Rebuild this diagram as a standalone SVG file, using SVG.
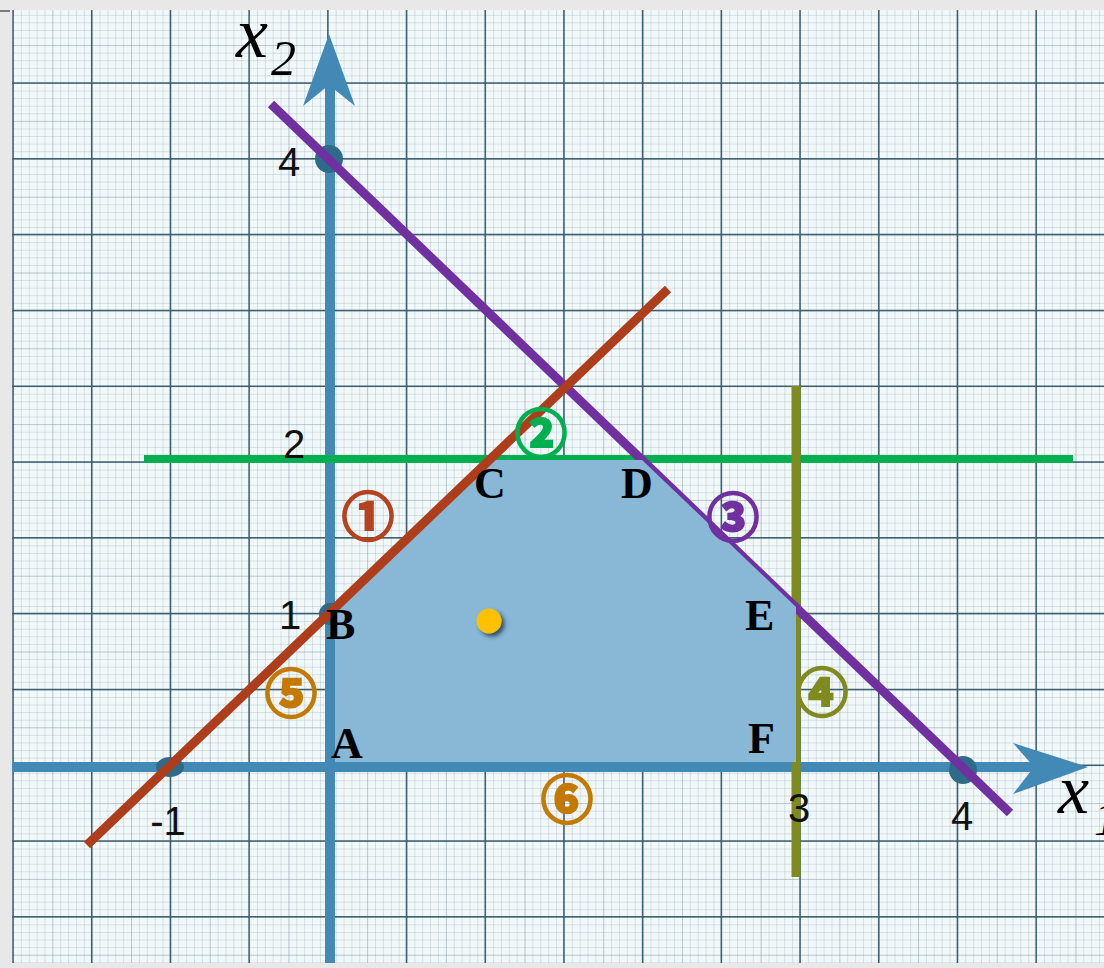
<svg xmlns="http://www.w3.org/2000/svg" width="1104" height="968" viewBox="0 0 1104 968">
<style>
.num{font-family:"Liberation Sans",Arial,sans-serif;font-size:40px;fill:#111;text-anchor:middle}
.pt{font-family:"Liberation Serif","Times New Roman",serif;font-weight:bold;font-size:44px;fill:#000}
.ax{font-family:"Liberation Serif","Times New Roman",serif;font-style:italic;fill:#000}
.circ{font-family:"Noto Sans CJK JP","DejaVu Sans",sans-serif;font-weight:bold;font-size:52px;text-anchor:middle;dominant-baseline:central;stroke-width:2.6}
.major{stroke:#23495a;stroke-width:1.5;fill:none;opacity:0.85}
</style>
<defs>
<pattern id="minor" patternUnits="userSpaceOnUse" x="13" y="7.2" width="7.87" height="7.58">
<path d="M0 0V7.58M0 0H7.87" stroke="#8fa3ae" stroke-width="0.7" fill="none" opacity="0.8"/>
</pattern>
<pattern id="mid" patternUnits="userSpaceOnUse" x="13" y="7.2" width="39.35" height="37.9">
<path d="M0 0V37.9M0 0H39.35" stroke="#6f8a98" stroke-width="0.8" fill="none" opacity="0.7"/>
</pattern>
<filter id="sh" x="-50%" y="-50%" width="200%" height="200%">
<feDropShadow dx="3" dy="3" stdDeviation="2" flood-color="#1c3344" flood-opacity="0.8"/>
</filter>
</defs>

<g id="paper">
<rect x="0" y="0" width="1104" height="968" fill="#e8e8e8"/>
<rect x="12" y="10" width="1092" height="953" fill="#f1f8fa"/>
<rect x="12" y="10" width="1092" height="953" fill="url(#minor)"/>
<rect x="12" y="10" width="1092" height="953" fill="url(#mid)"/>
<path class="major" d="M13 10V963M91.7 10V963M170.4 10V963M249.1 10V963M327.8 10V963M406.5 10V963M485.2 10V963M563.9 10V963M642.6 10V963M721.3 10V963M800 10V963M878.7 10V963M957.4 10V963M1036.1 10V963M12 83H1104M12 158.8H1104M12 234.6H1104M12 310.4H1104M12 386.2H1104M12 462H1104M12 537.8H1104M12 613.6H1104M12 689.4H1104M12 765.2H1104M12 841H1104M12 916.8H1104"/>
<path d="M0 11H10" stroke="#555" stroke-width="1.5"/>
</g>

<g id="axes">
<line x1="330" y1="963" x2="330" y2="80" stroke="#4289b5" stroke-width="10"/>
<polygon points="329,34 355,106 329,85 303,106" fill="#4289b5"/>
<line x1="12" y1="767" x2="1040" y2="767" stroke="#4289b5" stroke-width="10"/>
<polygon points="1088,767 1013,743 1034,767 1013,794" fill="#4289b5"/>
<text class="ax" x="236" y="57" font-size="72">x</text>
<text class="ax" x="271" y="75" font-size="50" font-style="normal">2</text>
<text class="ax" x="1058" y="813" font-size="70">x</text>
<text class="ax" x="1094" y="835" font-size="48" font-style="normal">1</text>
</g>

<g id="ticks">
<circle cx="329" cy="159" r="14" fill="#2e6a89"/>
<ellipse cx="170" cy="767" rx="14" ry="10" fill="#2e6a89"/>
<circle cx="963" cy="770" r="14" fill="#2e6a89"/>
<circle cx="330" cy="614" r="11" fill="#2e6a89"/>
</g>

<g id="constraint-lines">
<line id="line2" x1="144" y1="459" x2="1073" y2="459" stroke="#00b050" stroke-width="8"/>
<line id="line4" x1="796" y1="386" x2="796" y2="877" stroke="#7f8b1e" stroke-width="9"/>
<line id="line3" x1="271" y1="104" x2="1010" y2="813" stroke="#7030a0" stroke-width="9"/>
</g>

<g id="feasible-region">
<polygon points="335,762 335,608 490,460 642,460 796,607 796,762" fill="#88b8d6"/>
</g>

<g id="line1">
<line x1="87" y1="845" x2="668" y2="289" stroke="#ad3d1b" stroke-width="9"/>
</g>

<g id="optimum">
<circle cx="489" cy="621" r="12.5" fill="#ffc000" filter="url(#sh)"/>
</g>

<g id="tick-labels">
<text class="num" x="289" y="176">4</text>
<text class="num" x="294" y="458">2</text>
<text class="num" x="290" y="629">1</text>
<text class="num" x="168" y="835">-1</text>
<text class="num" x="799" y="822">3</text>
<text class="num" x="962" y="830">4</text>
</g>

<g id="vertex-labels">
<text class="pt" x="331" y="758">A</text>
<text class="pt" x="326" y="639">B</text>
<text class="pt" x="474" y="498">C</text>
<text class="pt" x="621" y="498">D</text>
<text class="pt" x="745" y="630">E</text>
<text class="pt" x="748" y="753">F</text>
</g>

<g id="constraint-labels">
<text class="circ" x="368" y="513" fill="#b5431f" stroke="#b5431f">①</text>
<text class="circ" x="541" y="430" fill="#00b050" stroke="#00b050">②</text>
<text class="circ" x="733" y="514" fill="#7030a0" stroke="#7030a0">③</text>
<text class="circ" x="822" y="689" fill="#7f8b1e" stroke="#7f8b1e">④</text>
<text class="circ" x="291" y="690" fill="#c47a00" stroke="#c47a00">⑤</text>
<text class="circ" x="567" y="796" fill="#c47a00" stroke="#c47a00">⑥</text>
</g>
</svg>
